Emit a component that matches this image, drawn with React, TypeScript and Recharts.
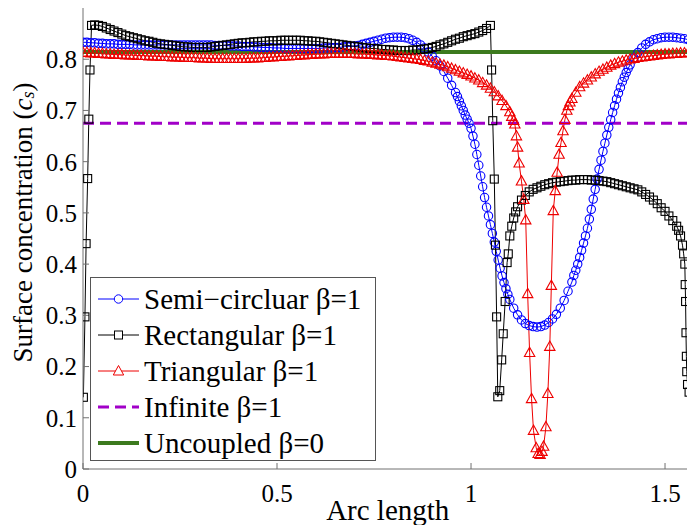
import { LineChart, Line, XAxis, YAxis, Legend, Label } from 'recharts';

const FONT = 'Liberation Serif, Times New Roman, serif';

// arc length / surface concentration
const semiArc = [
  0, 0.01, 0.02, 0.03, 0.04, 0.05, 0.06, 0.07, 0.08, 0.09,
  0.1, 0.11, 0.12, 0.13, 0.14, 0.15, 0.16, 0.17, 0.18, 0.19,
  0.2, 0.21, 0.22, 0.23, 0.24, 0.25, 0.26, 0.27, 0.28, 0.29,
  0.3, 0.31, 0.32, 0.33, 0.34, 0.35, 0.36, 0.37, 0.38, 0.39,
  0.4, 0.41, 0.42, 0.43, 0.44, 0.45, 0.46, 0.47, 0.48, 0.49,
  0.5, 0.51, 0.52, 0.53, 0.54, 0.55, 0.56, 0.57, 0.58, 0.59,
  0.6, 0.61, 0.62, 0.63, 0.64, 0.65, 0.66, 0.67, 0.68, 0.69,
  0.7, 0.71, 0.72, 0.73, 0.74, 0.75, 0.76, 0.77, 0.78, 0.79,
  0.8, 0.81, 0.82, 0.83, 0.84, 0.85, 0.86, 0.87, 0.88, 0.89,
  0.9, 0.91, 0.92, 0.93, 0.94, 0.95, 0.96, 0.965, 0.97, 0.975,
  0.98, 0.985, 0.99, 0.995, 1.0, 1.005, 1.01, 1.015, 1.02, 1.025,
  1.03, 1.035, 1.04, 1.045, 1.05, 1.055, 1.06, 1.065, 1.07, 1.075,
  1.08, 1.085, 1.09, 1.095, 1.1, 1.11, 1.12, 1.13, 1.14, 1.15,
  1.16, 1.17, 1.18, 1.19, 1.2, 1.21, 1.22, 1.23, 1.24, 1.25,
  1.26, 1.265, 1.27, 1.275, 1.28, 1.285, 1.29, 1.295, 1.3, 1.305,
  1.31, 1.315, 1.32, 1.325, 1.33, 1.335, 1.34, 1.345, 1.35, 1.355,
  1.36, 1.365, 1.37, 1.375, 1.38, 1.385, 1.39, 1.395, 1.4, 1.405,
  1.41, 1.42, 1.43, 1.44, 1.45, 1.46, 1.47, 1.48, 1.49, 1.5,
  1.51, 1.52, 1.53, 1.54, 1.55, 1.56, 1.57,
];
const semiConc = [
  0.833, 0.833, 0.832, 0.832, 0.831, 0.831, 0.83, 0.83, 0.83, 0.829,
  0.829, 0.829, 0.829, 0.828, 0.828, 0.828, 0.828, 0.828, 0.828, 0.828,
  0.828, 0.828, 0.828, 0.828, 0.828, 0.828, 0.828, 0.828, 0.828, 0.828,
  0.828, 0.828, 0.828, 0.828, 0.827, 0.827, 0.827, 0.827, 0.826, 0.826,
  0.826, 0.825, 0.825, 0.825, 0.824, 0.824, 0.823, 0.823, 0.823, 0.822,
  0.822, 0.822, 0.821, 0.821, 0.821, 0.821, 0.821, 0.821, 0.821, 0.821,
  0.821, 0.821, 0.822, 0.822, 0.822, 0.823, 0.823, 0.824, 0.825, 0.825,
  0.826, 0.827, 0.829, 0.831, 0.833, 0.835, 0.837, 0.839, 0.841, 0.842,
  0.843, 0.843, 0.843, 0.842, 0.84, 0.837, 0.833, 0.828, 0.822, 0.814,
  0.806, 0.797, 0.787, 0.776, 0.763, 0.749, 0.735, 0.727, 0.718, 0.709,
  0.7, 0.691, 0.683, 0.675, 0.665, 0.65, 0.634, 0.614, 0.593, 0.572,
  0.551, 0.53, 0.511, 0.494, 0.477, 0.46, 0.443, 0.425, 0.408, 0.392,
  0.377, 0.364, 0.352, 0.341, 0.331, 0.314, 0.301, 0.291, 0.284, 0.28,
  0.278, 0.277, 0.278, 0.281, 0.286, 0.293, 0.302, 0.314, 0.329, 0.347,
  0.365, 0.378, 0.388, 0.4, 0.413, 0.427, 0.441, 0.455, 0.47, 0.488,
  0.507, 0.527, 0.546, 0.566, 0.585, 0.603, 0.62, 0.636, 0.652, 0.667,
  0.682, 0.696, 0.709, 0.722, 0.734, 0.745, 0.756, 0.765, 0.774, 0.782,
  0.789, 0.802, 0.813, 0.822, 0.829, 0.834, 0.838, 0.84, 0.842, 0.843,
  0.843, 0.843, 0.842, 0.841, 0.84, 0.838, 0.836,
];

const rectArc = [
  0.001, 0.005, 0.008, 0.012, 0.015, 0.018, 0.022,
  0.03, 0.04, 0.05, 0.06, 0.07, 0.08, 0.09, 0.1, 0.11, 0.12,
  0.13, 0.14, 0.15, 0.16, 0.17, 0.18, 0.19, 0.2, 0.21, 0.22,
  0.23, 0.24, 0.25, 0.26, 0.27, 0.28, 0.29, 0.3, 0.31, 0.32,
  0.33, 0.34, 0.35, 0.36, 0.37, 0.38, 0.39, 0.4, 0.41, 0.42,
  0.43, 0.44, 0.45, 0.46, 0.47, 0.48, 0.49, 0.5, 0.51, 0.52,
  0.53, 0.54, 0.55, 0.56, 0.57, 0.58, 0.59, 0.6, 0.61, 0.62,
  0.63, 0.64, 0.65, 0.66, 0.67, 0.68, 0.69, 0.7, 0.71, 0.72,
  0.73, 0.74, 0.75, 0.76, 0.77, 0.78, 0.79, 0.8, 0.81, 0.82,
  0.83, 0.84, 0.85, 0.86, 0.87, 0.88, 0.89, 0.9, 0.91, 0.92,
  0.93, 0.94, 0.95, 0.96, 0.97, 0.98, 0.99, 1.0, 1.01, 1.02,
  1.03, 1.04, 1.05,
  1.053, 1.056, 1.06, 1.063, 1.066, 1.069, 1.074, 1.079, 1.083, 1.088,
  1.093, 1.096, 1.1, 1.105, 1.11, 1.115, 1.12,
  1.13, 1.14, 1.15, 1.16, 1.17, 1.18, 1.19, 1.2, 1.21, 1.22,
  1.23, 1.24, 1.25, 1.26, 1.27, 1.28, 1.29, 1.3, 1.31, 1.32,
  1.33, 1.34, 1.35, 1.36, 1.37, 1.38, 1.39, 1.4, 1.41, 1.42,
  1.43, 1.44, 1.45, 1.46, 1.47, 1.48, 1.49, 1.5, 1.51, 1.52,
  1.53, 1.535, 1.54, 1.545, 1.548, 1.551, 1.552, 1.553, 1.554, 1.555,
  1.556, 1.558, 1.562, 1.5708,
];
const rectConc = [
  0.14, 0.297, 0.44, 0.567, 0.683, 0.779, 0.866,
  0.867, 0.866, 0.864, 0.861, 0.858, 0.855, 0.852, 0.849, 0.846, 0.844,
  0.842, 0.84, 0.838, 0.836, 0.835, 0.833, 0.831, 0.83, 0.829, 0.828,
  0.827, 0.826, 0.825, 0.824, 0.824, 0.823, 0.823, 0.823, 0.823, 0.823,
  0.824, 0.825, 0.826, 0.827, 0.828, 0.829, 0.83, 0.831, 0.832, 0.832,
  0.833, 0.834, 0.834, 0.835, 0.835, 0.836, 0.836, 0.836, 0.837, 0.837,
  0.837, 0.837, 0.837, 0.837, 0.836, 0.836, 0.835, 0.835, 0.834, 0.833,
  0.832, 0.831, 0.83, 0.829, 0.828, 0.827, 0.826, 0.825, 0.824, 0.823,
  0.822, 0.821, 0.821, 0.82, 0.819, 0.819, 0.818, 0.818, 0.817, 0.817,
  0.817, 0.817, 0.818, 0.818, 0.819, 0.82, 0.821, 0.823, 0.825, 0.828,
  0.83, 0.833, 0.836, 0.839, 0.841, 0.844, 0.846, 0.848, 0.85, 0.853,
  0.856, 0.86, 0.866,
  0.779, 0.68, 0.566, 0.437, 0.297, 0.141, 0.153, 0.213, 0.264, 0.327,
  0.403, 0.42, 0.455, 0.474, 0.49, 0.502, 0.512,
  0.525, 0.534, 0.541, 0.546, 0.549, 0.552, 0.555, 0.557, 0.559, 0.56,
  0.561, 0.562, 0.563, 0.564, 0.564, 0.565, 0.565, 0.565, 0.564, 0.564,
  0.563, 0.562, 0.561, 0.559, 0.557, 0.555, 0.553, 0.551, 0.549, 0.547,
  0.545, 0.541, 0.536, 0.531, 0.525, 0.518, 0.51, 0.503, 0.494, 0.485,
  0.474, 0.466, 0.455, 0.437, 0.42, 0.4, 0.36, 0.327, 0.266, 0.22,
  0.19, 0.165, 0.15, 0.14,
];

const triArc = [
  0, 0.01, 0.02, 0.03, 0.04, 0.05, 0.06, 0.07, 0.08, 0.09,
  0.1, 0.11, 0.12, 0.13, 0.14, 0.15, 0.16, 0.17, 0.18, 0.19,
  0.2, 0.21, 0.22, 0.23, 0.24, 0.25, 0.26, 0.27, 0.28, 0.29,
  0.3, 0.31, 0.32, 0.33, 0.34, 0.35, 0.36, 0.37, 0.38, 0.39,
  0.4, 0.41, 0.42, 0.43, 0.44, 0.45, 0.46, 0.47, 0.48, 0.49,
  0.5, 0.51, 0.52, 0.53, 0.54, 0.55, 0.56, 0.57, 0.58, 0.59,
  0.6, 0.61, 0.62, 0.63, 0.64, 0.65, 0.66, 0.67, 0.68, 0.69,
  0.7, 0.71, 0.72, 0.73, 0.74, 0.75, 0.76, 0.77, 0.78, 0.79,
  0.8, 0.81, 0.82, 0.83, 0.84, 0.85, 0.86, 0.87, 0.88, 0.89,
  0.9, 0.91, 0.92, 0.93, 0.94, 0.95, 0.96, 0.97, 0.98, 0.99,
  1.0, 1.01, 1.02, 1.03, 1.04, 1.05, 1.06, 1.07, 1.08, 1.09,
  1.1, 1.105, 1.11, 1.113, 1.117, 1.12, 1.124, 1.13, 1.136, 1.141,
  1.146, 1.151, 1.156, 1.161, 1.168, 1.173, 1.178, 1.183, 1.187, 1.193,
  1.198, 1.203, 1.207, 1.212, 1.217, 1.222, 1.227, 1.232, 1.237, 1.242,
  1.247, 1.251, 1.255, 1.26,
  1.27, 1.28, 1.29, 1.3, 1.31, 1.32, 1.33, 1.34, 1.35, 1.36,
  1.37, 1.38, 1.39, 1.4, 1.41, 1.42, 1.43, 1.44, 1.45, 1.46,
  1.47, 1.48, 1.49, 1.5, 1.51, 1.52, 1.53, 1.54, 1.55, 1.56, 1.57,
];
const triConc = [
  0.813, 0.813, 0.812, 0.812, 0.811, 0.811, 0.81, 0.81, 0.809, 0.809,
  0.809, 0.808, 0.808, 0.808, 0.807, 0.807, 0.807, 0.806, 0.806, 0.806,
  0.805, 0.805, 0.805, 0.804, 0.804, 0.804, 0.803, 0.803, 0.803, 0.803,
  0.802, 0.802, 0.802, 0.801, 0.801, 0.801, 0.801, 0.801, 0.801, 0.801,
  0.801, 0.801, 0.801, 0.802, 0.802, 0.802, 0.803, 0.803, 0.804, 0.804,
  0.805, 0.805, 0.806, 0.806, 0.807, 0.807, 0.808, 0.808, 0.809, 0.809,
  0.81, 0.81, 0.81, 0.811, 0.811, 0.811, 0.811, 0.811, 0.811, 0.811,
  0.811, 0.81, 0.81, 0.81, 0.809, 0.809, 0.808, 0.808, 0.807, 0.807,
  0.806, 0.805, 0.804, 0.803, 0.802, 0.801, 0.8, 0.799, 0.797, 0.796,
  0.794, 0.792, 0.79, 0.788, 0.785, 0.782, 0.779, 0.776, 0.773, 0.77,
  0.767, 0.763, 0.759, 0.754, 0.749, 0.743, 0.736, 0.728, 0.719, 0.709,
  0.697, 0.688, 0.68, 0.673, 0.65, 0.628, 0.597, 0.562, 0.526, 0.486,
  0.342, 0.227, 0.137, 0.075, 0.041, 0.03, 0.028, 0.034, 0.044, 0.082,
  0.147, 0.239, 0.358, 0.504, 0.543, 0.579, 0.614, 0.637, 0.66, 0.682,
  0.7, 0.709, 0.716, 0.723,
  0.735, 0.746, 0.753, 0.759, 0.765, 0.771, 0.776, 0.78, 0.784, 0.788,
  0.791, 0.794, 0.796, 0.798, 0.8, 0.801, 0.803, 0.804, 0.805, 0.806,
  0.807, 0.808, 0.809, 0.81, 0.81, 0.811, 0.811, 0.812, 0.812, 0.813, 0.813,
];

const flatArc = [0, 1.5708];
const infiniteConc = [0.675, 0.675];
const uncoupledConc = [0.814, 0.814];

const xTicks = [0, 0.5, 1, 1.5];
const yTicks = [0, 0.1, 0.2, 0.3, 0.4, 0.5, 0.6, 0.7, 0.8];

const seriesNames = [
  'Semi\u2212circluar \u03b2=1',
  'Rectangular \u03b2=1',
  'Triangular \u03b2=1',
  'Infinite \u03b2=1',
  'Uncoupled \u03b2=0',
];

const BLUE = '#0000ff';
const BLACK = '#000000';
const RED = '#ee0000';
const PURPLE = '#a100c8';
const GREEN = '#3c7a1e';

const toPoints = (arc: number[], conc: number[]) => arc.map((s, i) => ({ s, c: conc[i] }));

const semiData = toPoints(semiArc, semiConc);
const rectData = toPoints(rectArc, rectConc);
const triData = toPoints(triArc, triConc);
const infiniteData = toPoints(flatArc, infiniteConc);
const uncoupledData = toPoints(flatArc, uncoupledConc);

const circleDot = (p: any) => (
  <circle key={p.index} cx={p.cx} cy={p.cy} r={4.2} fill="none" stroke={BLUE} strokeWidth={1.1} />
);
const squareDot = (p: any) => (
  <rect key={p.index} x={p.cx - 4} y={p.cy - 4} width={8} height={8} fill="none" stroke={BLACK} strokeWidth={1.1} />
);
const triangleDot = (p: any) => (
  <path
    key={p.index}
    d={`M${p.cx},${p.cy - 5.5}L${p.cx + 5.2},${p.cy + 3.8}L${p.cx - 5.2},${p.cy + 3.8}Z`}
    fill="none"
    stroke={RED}
    strokeWidth={1.1}
  />
);

const renderXLabel = (props: any) => {
  const vb = props.viewBox;
  return (
    <text x={vb.x + vb.width / 2} y={520} textAnchor="middle" fontFamily={FONT} fontSize={29} fill="#000">
      Arc length
    </text>
  );
};

const renderYLabel = (props: any) => {
  const vb = props.viewBox;
  const cx = vb.x + 23;
  const cy = vb.y + vb.height / 2 - 16;
  return (
    <text
      x={cx}
      y={cy}
      transform={`rotate(-90, ${cx}, ${cy})`}
      textAnchor="middle"
      dominantBaseline="central"
      fontFamily={FONT}
      fontSize={27}
      fill="#000"
    >
      Surface concentration (<tspan fontStyle="italic">c</tspan>
      <tspan fontStyle="italic" fontSize={18} dy={5}>s</tspan>
      <tspan dy={-5}>)</tspan>
    </text>
  );
};

const LegendIcon = ({ i }: { i: number }) => {
  const y = 18;
  if (i === 3) return <line x1={7} x2={48} y1={y} y2={y} stroke={PURPLE} strokeWidth={3} strokeDasharray="11 6" />;
  if (i === 4) return <line x1={7} x2={48} y1={y} y2={y} stroke={GREEN} strokeWidth={4} />;
  const color = [BLUE, BLACK, RED][i];
  return (
    <g>
      <line x1={7} x2={48} y1={y} y2={y} stroke={color} strokeWidth={1} />
      {i === 0 && <circle cx={27.5} cy={y} r={4.2} fill="#fff" stroke={BLUE} />}
      {i === 1 && <rect x={23.5} y={y - 4} width={8} height={8} fill="#fff" stroke={BLACK} />}
      {i === 2 && <path d={`M27.5,${y - 5.5}L32.7,${y + 4}L22.3,${y + 4}Z`} fill="#fff" stroke={RED} />}
    </g>
  );
};

const renderLegend = () => (
  <div
    style={{
      width: 286,
      height: 184,
      boxSizing: 'border-box',
      border: '1px solid #555',
      background: '#fff',
      paddingTop: 3,
      fontFamily: FONT,
      fontSize: 29,
      color: '#000',
    }}
  >
    {seriesNames.map((name, i) => (
      <div key={name} style={{ display: 'flex', alignItems: 'center', height: 36 }}>
        <svg width={53} height={36} style={{ flex: 'none' }}>
          <LegendIcon i={i} />
        </svg>
        <span style={{ whiteSpace: 'nowrap', lineHeight: '36px' }}>{name}</span>
      </div>
    ))}
  </div>
);

export default function App() {
  return (
    <div style={{ position: 'absolute', left: 0, top: 0, width: 687, height: 525, overflow: 'hidden', background: '#fff', fontFamily: FONT }}>
      <LineChart width={700} height={525} margin={{ top: 8, right: 7.5, bottom: 0, left: 0 }}>
        <XAxis
          dataKey="s"
          type="number"
          domain={[0, 1.5708]}
          ticks={xTicks}
          interval={0}
          allowDataOverflow
          height={56}
          tickSize={-6}
          tickMargin={21}
          stroke="#707070"
          tick={{ fill: '#000', fontSize: 25, fontFamily: FONT }}
        >
          <Label content={renderXLabel} />
        </XAxis>
        <XAxis
          xAxisId="top"
          orientation="top"
          type="number"
          domain={[0, 1.5708]}
          ticks={xTicks}
          interval={0}
          allowDataOverflow
          height={0}
          tickSize={-6}
          stroke="#707070"
          tick={false}
        />
        <YAxis
          type="number"
          domain={[0, 0.9]}
          ticks={yTicks}
          interval={0}
          allowDataOverflow
          width={83}
          tickSize={-6}
          tickMargin={12}
          stroke="#707070"
          tick={{ fill: '#000', fontSize: 25, fontFamily: FONT }}
        >
          <Label content={renderYLabel} />
        </YAxis>
        <Legend
          layout="vertical"
          align="center"
          verticalAlign="middle"
          content={renderLegend}
          wrapperStyle={{ position: 'absolute', left: 90, top: 277, width: 286, height: 184 }}
        />
        <Line data={semiData} dataKey="c" name={seriesNames[0]} stroke={BLUE} strokeWidth={1} dot={circleDot} isAnimationActive={false} />
        <Line data={rectData} dataKey="c" name={seriesNames[1]} stroke={BLACK} strokeWidth={1} dot={squareDot} isAnimationActive={false} />
        <Line data={triData} dataKey="c" name={seriesNames[2]} stroke={RED} strokeWidth={1} dot={triangleDot} isAnimationActive={false} />
        <Line data={infiniteData} dataKey="c" name={seriesNames[3]} stroke={PURPLE} strokeWidth={3.2} strokeDasharray="11 6" dot={false} isAnimationActive={false} />
        <Line data={uncoupledData} dataKey="c" name={seriesNames[4]} stroke={GREEN} strokeWidth={4} dot={false} isAnimationActive={false} />
      </LineChart>
    </div>
  );
}
